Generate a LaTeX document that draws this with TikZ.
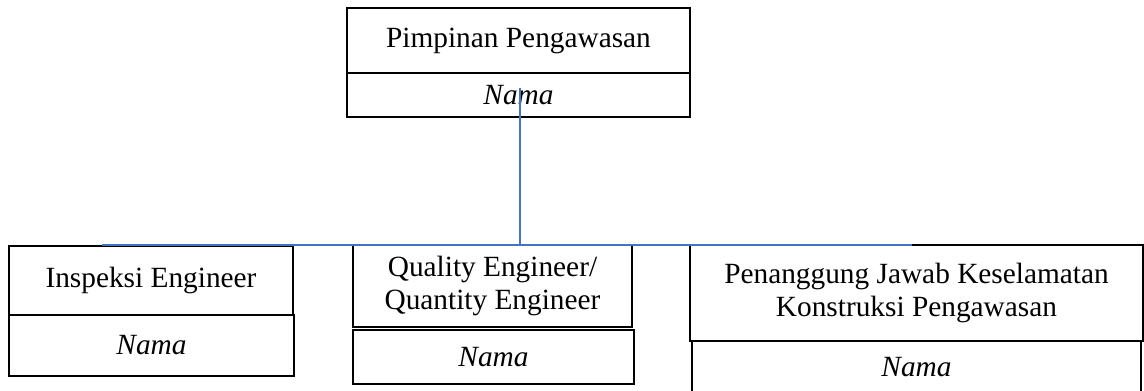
\documentclass[tikz,border=0pt]{standalone}
\usepackage{fontspec}
\setmainfont{Liberation Serif}
\definecolor{garisbiru}{HTML}{4472C4}
\tikzstyle{jabatan}=[draw,line width=1.2pt,inner sep=0pt,align=center,font=\fontsize{22}{24.75}\selectfont]
\tikzstyle{nama}=[jabatan,font=\fontsize{22}{24.75}\selectfont\itshape]
\tikzstyle{garis}=[draw,line width=1.2pt,garisbiru]

\begin{document}
\begin{tikzpicture}[x=0.75pt,y=-0.75pt]
	\useasboundingbox (0,0) rectangle (1144,391);
	\clip (0,0) rectangle (1144,391);
			% Kotak pimpinan
			\node[jabatan,minimum width=257.25pt,minimum height=48.75pt] (pimpinan) at (518.5,40.5) {Pimpinan Pengawasan};
			\node[nama,minimum width=257.25pt,minimum height=33pt] (pimpinanN) at (518.5,95) {Nama};
			% Kotak bawahan
			\node[jabatan,minimum width=213pt,minimum height=51.75pt] (inspeksi) at (151,280.5) {Inspeksi Engineer};
			\node[nama,minimum width=213.75pt,minimum height=45.75pt] (inspeksiN) at (151.5,345.5) {Nama};
			\node[jabatan,minimum width=209.25pt,minimum height=61.5pt] (quality) at (492.5,286) {Quality Engineer/\\Quantity Engineer};
			\node[nama,minimum width=210.75pt,minimum height=40.5pt] (qualityN) at (493.5,357) {Nama};
			\node[jabatan,minimum width=339.75pt,minimum height=72pt] (k3) at (916.5,293) {Penanggung Jawab Keselamatan\\Konstruksi Pengawasan};
			\node[nama,minimum width=336.75pt,minimum height=39.75pt] (k3N) at (916.5,367.5) {Nama};
	   		 % Garis penghubung
			\coordinate (atas) at (520,88);
			\coordinate (kiri) at (102,245);
			\coordinate (kanan) at (912,245);
			\path[garis] (atas) -- (atas |- kiri);
			\path[garis] (kiri) -- (kanan);
		\end{tikzpicture}
\end{document}
